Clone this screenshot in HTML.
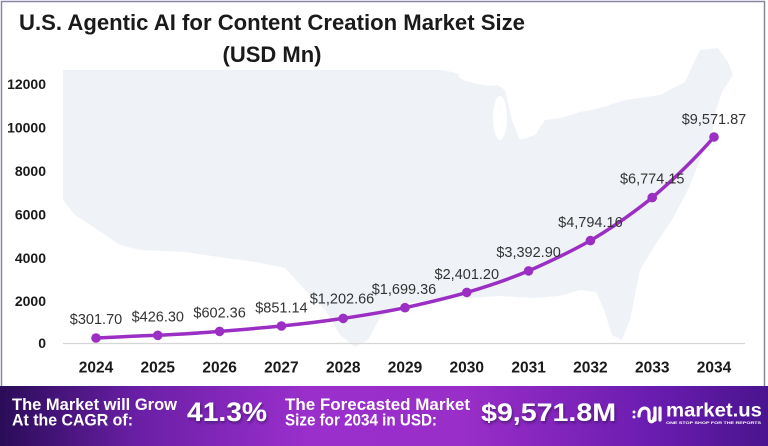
<!DOCTYPE html>
<html>
<head>
<meta charset="utf-8">
<style>
html,body{margin:0;padding:0;background:#fff;}
body{width:768px;height:446px;overflow:hidden;}
svg{display:block;}
</style>
</head>
<body>
<svg width="768" height="446" viewBox="0 0 768 446" xmlns="http://www.w3.org/2000/svg">
  <defs>
    <linearGradient id="ban" x1="0" y1="0" x2="1" y2="0">
      <stop offset="0" stop-color="#2a0c58"/>
      <stop offset="0.18" stop-color="#6a1fa6"/>
      <stop offset="0.4" stop-color="#9a2fcc"/>
      <stop offset="0.6" stop-color="#9a2ec8"/>
      <stop offset="0.85" stop-color="#6a1cb0"/>
      <stop offset="1" stop-color="#4a148e"/>
    </linearGradient>
    <filter id="sh" x="-10%" y="-30%" width="130%" height="170%">
      <feDropShadow dx="1" dy="2" stdDeviation="1.2" flood-color="#2a0850" flood-opacity="0.6"/>
    </filter>
  </defs>

  <rect x="0" y="0" width="768" height="446" fill="#ffffff"/>

  <!-- map background -->
  <path fill="#eff3f8" d="M63,70 L440,70 L452,72 L470,78 L490,80 L505,90 L512,120 L520,140 L535,135 L545,120 L560,118 L580,112 L600,108 L625,100 L660,95 L685,82 L695,60 L700,50 L718,48 L728,62 L733,75 L722,92 L716,110 L712,135 L700,160 L688,190 L672,220 L655,245 L640,270 L634,300 L630,320 L622,340 L612,335 L604,310 L596,292 L580,290 L560,296 L530,298 L500,296 L470,298 L440,298 L400,305 L380,318 L368,340 L355,347 L340,335 L325,310 L305,290 L285,268 L255,262 L225,258 L185,252 L140,250 L120,245 L95,228 L75,215 L63,200 Z"/>
  <ellipse cx="500" cy="118" rx="7" ry="22" fill="#ffffff"/>
  <ellipse cx="558" cy="105" rx="12" ry="10" fill="#ffffff"/>
  <ellipse cx="478" cy="80" rx="20" ry="4" fill="#ffffff" transform="rotate(12 478 80)"/>

  <!-- frame -->
  <rect x="1.5" y="1.5" width="763" height="440" fill="none" stroke="#8d84a3" stroke-width="1.5"/>

  <!-- title -->
  <text x="19" y="30" font-family="Liberation Sans, sans-serif" font-weight="bold" font-size="22" fill="#1a1a1a" textLength="506" lengthAdjust="spacingAndGlyphs">U.S. Agentic AI for Content Creation Market Size</text>
  <text x="272" y="62" text-anchor="middle" font-family="Liberation Sans, sans-serif" font-weight="bold" font-size="22" fill="#1a1a1a">(USD Mn)</text>

  <!-- y axis labels -->
  <g font-family="Liberation Sans, sans-serif" font-weight="bold" font-size="14" fill="#1a1a1a" text-anchor="end">
    <text x="46" y="89">12000</text>
    <text x="46" y="132.5">10000</text>
    <text x="46" y="176">8000</text>
    <text x="46" y="219.5">6000</text>
    <text x="46" y="263">4000</text>
    <text x="46" y="306">2000</text>
    <text x="46" y="348">0</text>
  </g>

  <!-- axis line -->
  <line x1="63" y1="343.5" x2="745" y2="343.5" stroke="#d6d6d6" stroke-width="1.2"/>

  <!-- x axis labels -->
  <g font-family="Liberation Sans, sans-serif" font-weight="bold" font-size="15.5" fill="#1a1a1a" text-anchor="middle">
    <text x="96" y="372.5">2024</text>
    <text x="157.8" y="372.5">2025</text>
    <text x="219.6" y="372.5">2026</text>
    <text x="281.4" y="372.5">2027</text>
    <text x="343.2" y="372.5">2028</text>
    <text x="405" y="372.5">2029</text>
    <text x="466.8" y="372.5">2030</text>
    <text x="528.6" y="372.5">2031</text>
    <text x="590.4" y="372.5">2032</text>
    <text x="652.2" y="372.5">2033</text>
    <text x="714" y="372.5">2034</text>
  </g>

  <!-- series line -->
  <path fill="none" stroke="#9b2fc4" stroke-width="3.5" stroke-linejoin="round" stroke-linecap="round"
    d="M96,338 C116,337 137,336 157.8,335.3 C178,334.5 199,333 219.6,331.4 C240,329.8 261,328 281.4,326 C302,324 322,321.5 343.2,318.4 C364,315.2 385,312 405,307.7 C426,303 446,298.5 466.8,292.4 C487,286.5 508,279.5 528.6,270.9 C550,261.5 570,252 590.4,240.6 C611,228.5 632,214 652.2,197.6 C674,179 694,160 714,137"/>
  <g fill="#9b2fc4">
    <circle cx="96" cy="338" r="4.8"/>
    <circle cx="157.8" cy="335.3" r="4.8"/>
    <circle cx="219.6" cy="331.4" r="4.8"/>
    <circle cx="281.4" cy="326" r="4.8"/>
    <circle cx="343.2" cy="318.4" r="4.8"/>
    <circle cx="405" cy="307.7" r="4.8"/>
    <circle cx="466.8" cy="292.4" r="4.8"/>
    <circle cx="528.6" cy="270.9" r="4.8"/>
    <circle cx="590.4" cy="240.6" r="4.8"/>
    <circle cx="652.2" cy="197.6" r="4.8"/>
    <circle cx="714" cy="137" r="4.8"/>
  </g>

  <!-- data labels -->
  <g font-family="Liberation Sans, sans-serif" font-size="14.5" fill="#333333" text-anchor="middle">
    <text x="96" y="324">$301.70</text>
    <text x="157.8" y="321.5">$426.30</text>
    <text x="219.6" y="317.5">$602.36</text>
    <text x="281.4" y="312.5">$851.14</text>
    <text x="342" y="303.5">$1,202.66</text>
    <text x="404" y="294">$1,699.36</text>
    <text x="466.8" y="279">$2,401.20</text>
    <text x="528.6" y="257">$3,392.90</text>
    <text x="590.4" y="227">$4,794.16</text>
    <text x="652.2" y="183.5">$6,774.15</text>
    <text x="714" y="124">$9,571.87</text>
  </g>

  <!-- banner -->
  <rect x="0" y="386" width="768" height="60" fill="url(#ban)"/>
  <g font-family="Liberation Sans, sans-serif" font-weight="bold" fill="#ffffff">
    <text x="12" y="410" font-size="16.5" textLength="165" lengthAdjust="spacingAndGlyphs">The Market will Grow</text>
    <text x="12" y="425.5" font-size="16.5" textLength="121" lengthAdjust="spacingAndGlyphs">At the CAGR of:</text>
    <text x="187" y="421" font-size="27" textLength="80" lengthAdjust="spacingAndGlyphs" filter="url(#sh)">41.3%</text>
    <text x="285" y="410" font-size="16.5" textLength="185" lengthAdjust="spacingAndGlyphs">The Forecasted Market</text>
    <text x="285" y="425.5" font-size="16.5" textLength="152" lengthAdjust="spacingAndGlyphs">Size for 2034 in USD:</text>
    <text x="481" y="421" font-size="25" textLength="135" lengthAdjust="spacingAndGlyphs" filter="url(#sh)">$9,571.8M</text>
    <text x="666" y="416.5" font-size="19" textLength="96" lengthAdjust="spacingAndGlyphs">market.us</text>
    <text x="666" y="424" font-size="3.6" textLength="95" lengthAdjust="spacingAndGlyphs">ONE STOP SHOP FOR THE REPORTS</text>
  </g>
  <!-- logo icon -->
  <g fill="none" stroke="#ffffff" stroke-width="3.2" stroke-linecap="round">
    <path d="M639,416 C639,406 649,406 649,413 L649,418 C649,423 654,423 654,418"/>
    <line x1="655" y1="408" x2="655" y2="420"/>
    <line x1="660" y1="408" x2="660" y2="420"/>
  </g>
  <circle cx="634" cy="412" r="1.5" fill="#ffffff"/>
  <circle cx="634" cy="417" r="1.5" fill="#ffffff"/>
</svg>
</body>
</html>
